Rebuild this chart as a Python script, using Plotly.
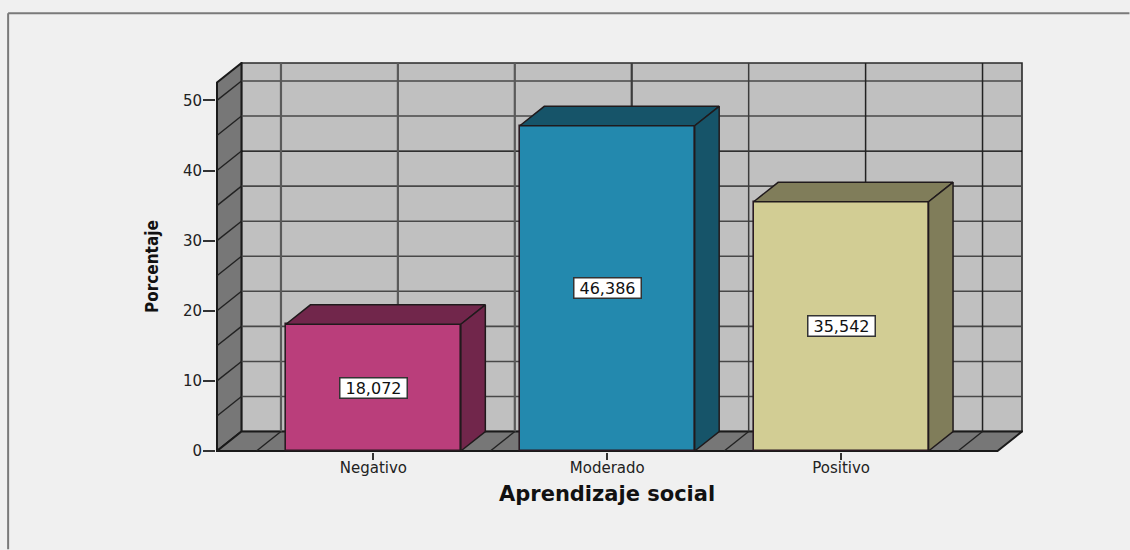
import plotly.graph_objects as go

# --- data ---
categories = ["Negativo", "Moderado", "Positivo"]
values = [18.072, 46.386, 35.542]
y_ticks = [0, 10, 20, 30, 40, 50]
x_title = "Aprendizaje social"
y_title = "Porcentaje"

# --- style ---
front_colors = ["#BA3E7B", "#2389AE", "#D2CD94"]
shade_colors = ["#71264B", "#165469", "#807D5A"]
BG = "#F0F0F0"
WALL = "#C0C0C0"
SIDE = "#777777"
EDGE = "#1A1A1A"

# --- layout geometry (pixels) ---
W, H = 1130, 550
PX_LEFT, PX_RIGHT, PX_TOP, PX_BOTTOM = 217, 1022.5, 62.5, 451.5
CAT0_PX, CAT_STEP = 373.5, 234.0
UNIT_PX = 7.03
DEPTH_PX_X, DEPTH_PX_Y = 24.5, 19.5
BAR_W = 175 / CAT_STEP
PAD = 1

dx = DEPTH_PX_X / CAT_STEP
dy = DEPTH_PX_Y / UNIT_PX
x_min = (PX_LEFT - CAT0_PX) / CAT_STEP
x_max = (PX_RIGHT - CAT0_PX) / CAT_STEP
y_max = (PX_BOTTOM - PX_TOP) / UNIT_PX
x_front_max = x_max - dx
y_front_max = y_max - dy
pad_x, pad_y = PAD / CAT_STEP, PAD / UNIT_PX
plot_w = PX_RIGHT - PX_LEFT + 2 * PAD
plot_h = PX_BOTTOM - PX_TOP + 2 * PAD


def paper_x(px):
    return (px - PX_LEFT + PAD) / plot_w


def paper_y(px):
    return (PX_BOTTOM + PAD - px) / plot_h


def poly(points):
    return "M " + " L ".join(f"{a},{b}" for a, b in points) + " Z"


def seg(x0, y0, x1, y1, color=EDGE, width=1.5):
    return dict(type="line", xref="x", yref="y", x0=x0, y0=y0, x1=x1, y1=y1,
                layer="below", line=dict(color=color, width=width))


shapes = [
    # page frame
    dict(type="line", xref="paper", yref="paper", layer="below",
         x0=paper_x(8), x1=paper_x(W), y0=paper_y(12.5), y1=paper_y(12.5),
         line=dict(color="#7A7A7A", width=2)),
    dict(type="line", xref="paper", yref="paper", layer="below",
         x0=paper_x(8), x1=paper_x(8), y0=paper_y(H), y1=paper_y(12.5),
         line=dict(color="#7A7A7A", width=2)),
    # back wall
    dict(type="path", xref="x", yref="y", layer="below",
         path=poly([(x_min + dx, dy), (x_max, dy), (x_max, y_max), (x_min + dx, y_max)]),
         fillcolor=WALL, line=dict(color="#2A2A2A", width=1.6)),
    # left wall
    dict(type="path", xref="x", yref="y", layer="below",
         path=poly([(x_min, 0), (x_min + dx, dy), (x_min + dx, y_max), (x_min, y_front_max)]),
         fillcolor=SIDE, line=dict(color=EDGE, width=2)),
    # floor
    dict(type="path", xref="x", yref="y", layer="below",
         path=poly([(x_min, 0), (x_front_max, 0), (x_max, dy), (x_min + dx, dy)]),
         fillcolor=SIDE, line=dict(color=EDGE, width=2)),
]

# horizontal grid on back wall + diagonals on left wall, every 5 units
for k in range(5, 55, 5):
    strong = k == 40
    shapes.append(seg(x_min + dx, k + dy, x_max, k + dy,
                      color="#000000" if strong else "#484848", width=1.2 if strong else 1.6))
    shapes.append(seg(x_min, k, x_min + dx, k + dy, color="#222222", width=1.4))

# vertical grid on back wall + diagonals on floor, at category boundaries and centres
for j in range(7):
    pos = -0.5 + j * 0.5
    shade = "#5A5A5A" if j < 3 else ("#3C3C3C" if j < 5 else "#222222")
    shapes.append(seg(pos + dx, dy, pos + dx, y_max, color=shade, width=2.2 if j < 4 else 1.5))
    if j % 2 == 0:
        shapes.append(seg(pos, 0, pos + dx, dy, color="#222222", width=1.4))

fig = go.Figure()

# front faces
fig.add_trace(go.Bar(
    x=list(range(len(categories))), y=values, width=BAR_W,
    marker=dict(color=front_colors, line=dict(color="#2A1A22", width=1.6)),
    hoverinfo="skip", showlegend=False))

# top and side faces derived from the values
for i, v in enumerate(values):
    x0, x1 = i - BAR_W / 2, i + BAR_W / 2
    fig.add_trace(go.Scatter(
        x=[x0, x0 + dx, x1 + dx, x1, x0], y=[v, v + dy, v + dy, v, v],
        mode="lines", fill="toself", fillcolor=shade_colors[i],
        line=dict(color="#201A1C", width=1.5), hoverinfo="skip", showlegend=False))
    fig.add_trace(go.Scatter(
        x=[x1, x1 + dx, x1 + dx, x1, x1], y=[v, v + dy, dy, 0, v],
        mode="lines", fill="toself", fillcolor=shade_colors[i],
        line=dict(color="#201A1C", width=1.5), hoverinfo="skip", showlegend=False))

annotations = [
    dict(x=i, y=v / 2, xref="x", yref="y", showarrow=False,
         text=f"{v:.3f}".replace(".", ","), width=66, height=19, align="center",
         font=dict(family="DejaVu Sans", size=16, color="#111111"),
         bgcolor="#FFFFFF", bordercolor="#333333", borderwidth=1.5, borderpad=0)
    for i, v in enumerate(values)
]
annotations.append(dict(
    x=1, y=paper_y(495), xref="x", yref="paper", xanchor="center", yanchor="middle",
    showarrow=False, text=x_title,
    font=dict(family="DejaVu Sans", size=21, color="#111111", weight="bold")))
annotations.append(dict(
    x=paper_x(152), y=paper_y(267), xref="paper", yref="paper", xanchor="center", yanchor="middle",
    showarrow=False, text=y_title, textangle=-90,
    font=dict(family="'DejaVu Sans Condensed', 'Liberation Sans'", size=17, color="#111111", weight="bold")))

fig.update_layout(
    width=W, height=H, autosize=False,
    margin=dict(l=PX_LEFT - PAD, r=W - PX_RIGHT - PAD, t=PX_TOP - PAD, b=H - PX_BOTTOM - PAD, pad=0),
    paper_bgcolor=BG, plot_bgcolor="rgba(0,0,0,0)",
    shapes=shapes, annotations=annotations, showlegend=False, bargap=0,
    xaxis=dict(range=[x_min - pad_x, x_max + pad_x],
               tickmode="array", tickvals=list(range(len(categories))), ticktext=categories,
               ticks="outside", ticklen=7, tickwidth=2, tickcolor="#333333",
               ticklabelstandoff=-5,
               tickfont=dict(family="DejaVu Sans", size=15, color="#222222"),
               showgrid=False, zeroline=False, showline=False, fixedrange=True),
    yaxis=dict(range=[-pad_y, y_max + pad_y],
               tickmode="array", tickvals=y_ticks,
               ticks="outside", ticklen=12, tickwidth=2, tickcolor="#333333",
               ticklabelstandoff=-2,
               tickfont=dict(family="DejaVu Sans", size=15, color="#222222"),
               showgrid=False, zeroline=False, showline=False, fixedrange=True),
)

fig.write_html("out.html", config={"displayModeBar": False},
               post_script="document.body.style.margin='0';document.documentElement.style.background='#F0F0F0';document.body.style.overflow='hidden';")
